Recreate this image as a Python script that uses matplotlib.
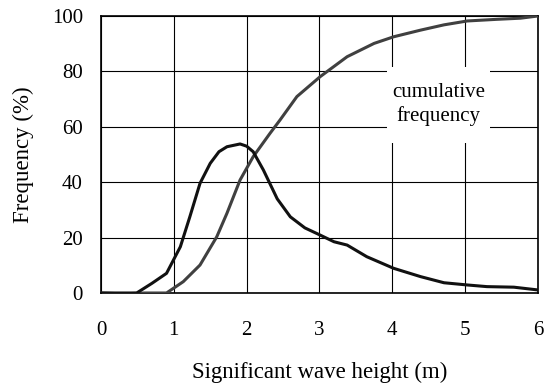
import matplotlib
matplotlib.use("Agg")
import matplotlib.pyplot as plt
from matplotlib.patches import Rectangle

# Frequency curve (black)
freq_x = [0.0, 0.3, 0.49, 0.7, 0.9, 1.09, 1.22, 1.36, 1.5, 1.62, 1.73, 1.91, 2.0, 2.09, 2.23, 2.42, 2.6,
          2.8, 3.01, 3.2, 3.38, 3.65, 4.02, 4.39, 4.71, 5.03, 5.3, 5.67, 6.0]
freq_y = [0.0, 0.0, 0.0, 3.5, 7.1, 16.7, 27.5, 39.6, 46.8, 51.0, 52.8, 53.8, 53.0, 51.0, 44.4, 34.0, 27.5,
          23.5, 20.9, 18.5, 17.3, 13.1, 8.9, 5.9, 3.7, 2.9, 2.3, 2.1, 1.1]

# Cumulative frequency curve (grey)
cum_x = [0.0, 0.3, 0.6, 0.9, 1.13, 1.36, 1.59, 1.73, 1.91, 2.09, 2.32, 2.46, 2.69, 3.01, 3.38, 3.75,
         4.02, 4.39, 4.71, 5.03, 5.44, 5.76, 6.0]
cum_y = [0.0, -0.3, 0.0, 0.0, 4.1, 10.1, 20.3, 28.8, 40.8, 49.2, 57.6, 62.5, 70.9, 78.1, 85.3, 90.1,
         92.5, 94.9, 96.8, 98.2, 98.8, 99.2, 100.0]

xticks = [0, 1, 2, 3, 4, 5, 6]
yticks = [0, 20, 40, 60, 80, 100]

plt.rcParams['font.family'] = ['Liberation Serif', 'DejaVu Serif']

fig = plt.figure(figsize=(5.45, 3.87), dpi=100)
ax = fig.add_axes([0.1853, 0.2429, 0.987 - 0.1853, 0.9587 - 0.2429])

ax.plot(cum_x, cum_y, color='#404040', lw=2.2, zorder=3, solid_capstyle='round')
ax.plot(freq_x, freq_y, color='#111111', lw=2.2, zorder=4, solid_capstyle='round')

ax.set_xlim(0, 6)
ax.set_ylim(0, 100)
ax.set_xticks(xticks)
ax.set_yticks(yticks)
ax.grid(True, color='black', lw=0.8)
ax.set_axisbelow(True)
for s in ax.spines.values():
    s.set_linewidth(1.2)
    s.set_color('black')
ax.tick_params(axis='x', labelsize=15, length=0, pad=20)
ax.tick_params(axis='y', labelsize=15, length=0, pad=13)

ax.set_xlabel('Significant wave height (m)', fontsize=16.5, labelpad=16)
ax.set_ylabel('Frequency (%)', fontsize=16.5, labelpad=13)

# white label box behind the annotation (hides grid lines)
ax.add_patch(Rectangle((3.93, 54.2), 1.41, 27.3, facecolor='white', edgecolor='none', zorder=2))
ax.text(4.64, 68.0, 'cumulative\nfrequency', ha='center', va='center', fontsize=15,
        linespacing=1.25, zorder=5)

fig.savefig('out.png', dpi=100)
